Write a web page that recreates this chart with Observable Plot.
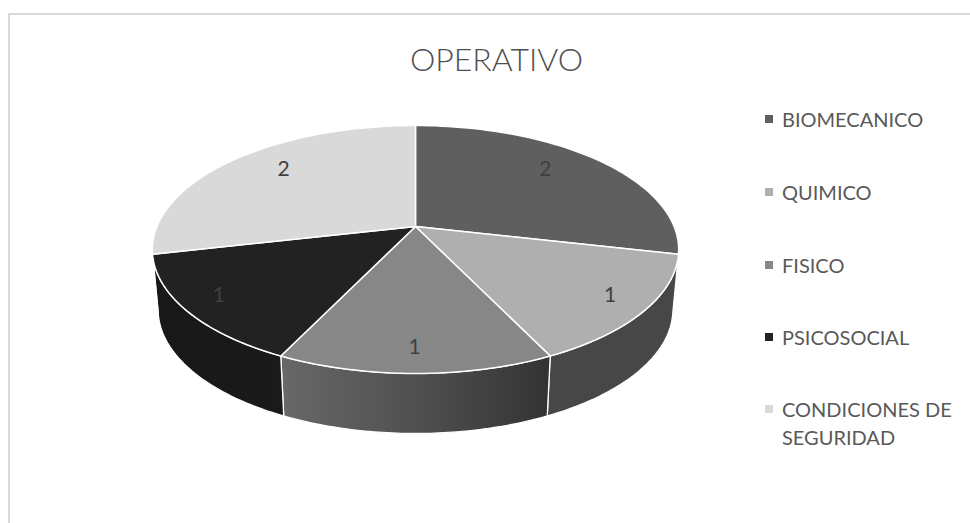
<!DOCTYPE html>
<html lang="es">
<head>
<meta charset="utf-8">
<script src="https://cdn.jsdelivr.net/npm/d3@7"></script>
<script src="https://cdn.jsdelivr.net/npm/@observablehq/plot@0.6"></script>
<style>
  html, body { margin: 0; padding: 0; background: #fff; }
  #page { position: relative; width: 970px; height: 523px; overflow: hidden; font-family: Lato, "Open Sans", sans-serif; }
  #frame { position: absolute; left: 8px; top: 13px; right: -10px; bottom: -10px; border-left: 2px solid #d9d9d9; border-top: 2px solid #d9d9d9; }
  #title { position: absolute; left: 0; width: 993px; top: 37px; margin: 0; text-align: center; font-size: 32px; line-height: 44px; font-weight: 300; color: #4f4f4f; }
  #chart { position: absolute; left: 0; top: 0; }
  #legend { position: absolute; left: 765px; top: 0; width: 200px; color: #595959; font-size: 20px; line-height: 28px; }
  #legend .item { position: absolute; left: 17px; width: 190px; }
  #legend .sw { position: absolute; left: -17px; top: 10px; width: 8px; height: 8px; }
</style>
</head>
<body>
<div id="page">
  <div id="frame"></div>
  <h2 id="title"></h2>
  <div id="chart"></div>
  <div id="legend"></div>
</div>
<script>
const chartTitle = "OPERATIVO";
const categories = ["BIOMECANICO", "QUIMICO", "FISICO", "PSICOSOCIAL", "CONDICIONES DE SEGURIDAD"];
const values = [2, 1, 1, 1, 2];
const topColors = ["#5f5f5f", "#afafaf", "#878787", "#222222", "#d9d9d9"];
const wallColors = ["#474747", "#474747", "url(#fisicoWall)", "url(#psicoWall)", "#b0b0b0"];

// Perspective disc: maps polar position in the pie's plane to the picture.
const view = {cx: 415, cy: 226, bx: 258.6, by: 119.7, k: 0.1855, depth: 60, shrink: 0.978};
function project(angle, r = 1) {
  const s = Math.sin(angle) * r, t = Math.cos(angle) * r, w = 1 + view.k * t;
  return [view.cx + view.bx * s / w, view.cy - view.by * t / w];
}
function lower([x, y]) {
  return [view.cx + (x - view.cx) * view.shrink, y + view.depth];
}

const arcs = d3.pie().sort(null)(values);
const rim = (a0, a1) => d3.range(0, 61).map(i => a0 + (a1 - a0) * i / 60);

const topPoints = arcs.flatMap((a, i) => {
  const pts = rim(a.startAngle, a.endAngle).map(t => project(t));
  return [[view.cx, view.cy], ...pts].map(([x, y]) => ({x, y, slice: categories[i], color: topColors[i]}));
});

// Only the part of the wall facing the viewer (below the widest points of the disc).
const wallPoints = arcs.flatMap((a, i) => {
  const lo = Math.max(a.startAngle, Math.PI / 2 + 0.2), hi = Math.min(a.endAngle, 3 * Math.PI / 2 - 0.2);
  if (lo >= hi) return [];
  const upper = rim(lo, hi).map(t => project(t));
  const bottom = upper.map(lower).reverse();
  return [...upper, ...bottom].map(([x, y]) => ({x, y, slice: categories[i], color: wallColors[i]}));
});

const labels = arcs.map((a, i) => {
  const mid = (a.startAngle + a.endAngle) / 2;
  const big = a.value > 1;
  const [x, y] = project(mid, big ? 0.70 : 0.87);
  return {x: x - 1, y: y + (big ? -9 : -3), text: String(a.value)};
});

const plot = Plot.plot({
  width: 970, height: 523,
  margin: 0,
  x: {domain: [0, 970], range: [0, 970], axis: null},
  y: {domain: [0, 523], range: [0, 523], axis: null},
  style: {background: "transparent", overflow: "visible"},
  marks: [
    Plot.line(wallPoints, {x: "x", y: "y", z: "slice", fill: "color", stroke: "#fff", strokeWidth: 1.3, curve: "linear-closed"}),
    Plot.line(topPoints, {x: "x", y: "y", z: "slice", fill: "color", stroke: "#fff", strokeWidth: 1.5, curve: "linear-closed"}),
    Plot.text(labels, {x: "x", y: "y", text: "text", fontSize: 21, fill: "#404040", fontFamily: "Lato, sans-serif"})
  ]
});

const svg = d3.select(plot);
const defs = svg.insert("defs", ":first-child");
function gradient(id, stops) {
  const g = defs.append("linearGradient").attr("id", id).attr("x1", 0).attr("x2", 1).attr("y1", 0).attr("y2", 0);
  stops.forEach(([o, c]) => g.append("stop").attr("offset", o).attr("stop-color", c));
}
gradient("fisicoWall", [[0, "#686868"], [0.5, "#505050"], [1, "#333333"]]);
gradient("psicoWall", [[0, "#181818"], [1, "#1a1a1a"]]);
document.getElementById("chart").appendChild(plot);

document.getElementById("title").textContent = chartTitle;
const legendTops = [105, 178, 251, 323, 395];
const legend = d3.select("#legend");
categories.forEach((c, i) => {
  const item = legend.append("div").attr("class", "item").style("top", legendTops[i] + "px");
  item.append("div").attr("class", "sw").style("background", topColors[i]);
  item.append("span").text(c);
});
</script>
</body>
</html>
